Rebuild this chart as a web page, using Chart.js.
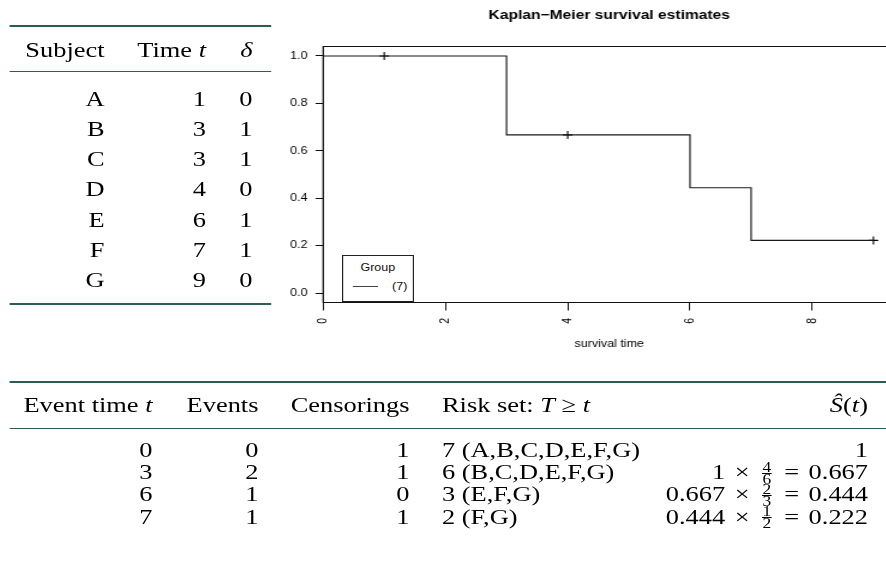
<!DOCTYPE html>
<html lang="en">
<head>
    <meta charset="UTF-8">
    <title>Kaplan-Meier survival estimates</title>
    <script src="https://cdn.jsdelivr.net/npm/chart.js"></script>
    <style>
        html, body {
            margin: 0;
            padding: 0;
            width: 886px;
            height: 572px;
            overflow: hidden;
            background: #fff;
        }

        /* the reference picture is stretched sideways, so lay out narrow and scale */
        #stage {
            position: absolute;
            left: 0;
            top: 0;
            width: 738.33px;
            height: 572px;
            transform: scaleX(1.2);
            transform-origin: 0 0;
        }

        .rule {
            position: absolute;
            background: #2c5b5c;
        }

        .cell {
            position: absolute;
            font-family: 'Liberation Serif', 'Times New Roman', serif;
            font-size: 22px;
            line-height: 22px;
            color: #000;
            white-space: nowrap;
        }

        .op {
            margin: 0 0.36em;
        }

        .frac {
            display: inline-flex;
            flex-direction: column;
            vertical-align: middle;
            font-size: 0.66em;
            line-height: 11px;
            text-align: center;
            margin: -4px 0.2em;
            position: relative;
            top: -1px;
        }

        .frac .den {
            border-top: 1px solid #000;
        }

        #km {
            position: absolute;
            left: 230px;
            top: 0;
        }

        #legend {
            position: absolute;
            left: 284.75px;
            top: 254.7px;
            width: 60.25px;
            height: 47.8px;
            box-sizing: border-box;
            border: 1px solid #222;
            background: #fff;
            font-family: 'Liberation Sans', Arial, sans-serif;
            font-size: 10.4px;
            line-height: 12px;
            color: #111;
        }

        #legend .lg-title {
            position: absolute;
            left: 0;
            right: 0;
            top: 6px;
            text-align: center;
        }

        #legend .lg-line {
            position: absolute;
            left: 8.5px;
            width: 20.5px;
            top: 30.4px;
            border-top: 1.2px solid #444;
        }

        #legend .lg-label {
            position: absolute;
            left: 41px;
            top: 25.4px;
        }
    </style>
</head>
<body>
    <div id="stage">
        <canvas id="km" width="530" height="360"></canvas>
        <div id="legend">
            <div class="lg-title">Group</div>
            <div class="lg-line"></div>
            <div class="lg-label" id="lg-label"></div>
        </div>
    </div>

    <script>
        // ---- data ----
        const xTicks = [0, 2, 4, 6, 8];
        const yTicks = [0, 0.2, 0.4, 0.6, 0.8, 1.0];
        const kmTimes = [0, 3, 6, 7, 9];
        const kmSurv = [1, 0.667, 0.444, 0.222, 0.222];
        const censorTimes = [1, 4, 9];
        const censorSurv = [1, 0.667, 0.222];
        const groupLabels = ['(7)'];

        const subjects = ['A', 'B', 'C', 'D', 'E', 'F', 'G'];
        const subjTimes = [1, 3, 3, 4, 6, 7, 9];
        const subjDelta = [0, 1, 1, 0, 1, 1, 0];

        const eventTimes = [0, 3, 6, 7];
        const eventCounts = [0, 2, 1, 1];
        const censorCounts = [1, 1, 0, 1];
        const riskSets = ['7 (A,B,C,D,E,F,G)', '6 (B,C,D,E,F,G)', '3 (E,F,G)', '2 (F,G)'];
        const survPrev = [null, '1', '0.667', '0.444'];
        const survNum = [null, 4, 2, 1];
        const survDen = [null, 6, 3, 2];
        const survValue = ['1', '0.667', '0.444', '0.222'];

        // ---- tables ----
        const stage = document.getElementById('stage');
        const STAGE_W = 738.33;

        function rule(x, y, w, h) {
            const el = document.createElement('div');
            el.className = 'rule';
            el.style.left = x + 'px';
            el.style.top = y + 'px';
            el.style.width = w + 'px';
            el.style.height = h + 'px';
            stage.appendChild(el);
        }

        function put(html, x, yc, align) {
            const el = document.createElement('div');
            el.className = 'cell';
            el.innerHTML = html;
            el.style.top = (yc - 11.1) + 'px';
            if (align === 'right') el.style.right = (STAGE_W - x) + 'px';
            else el.style.left = x + 'px';
            stage.appendChild(el);
        }

        // left table
        rule(7.5, 25, 218.3, 2.2);
        rule(7.5, 70.9, 218.3, 1.6);
        rule(7.5, 303.2, 218.3, 2.2);
        const leftCols = [87.1, 171.7, 210.4];
        put('Subject', leftCols[0], 50, 'right');
        put('Time <i>t</i>', leftCols[1], 50, 'right');
        put('<i>δ</i>', leftCols[2], 50, 'right');
        subjects.forEach((s, i) => {
            const yc = 99 + 30.17 * i;
            put(s, leftCols[0], yc, 'right');
            put(String(subjTimes[i]), leftCols[1], yc, 'right');
            put(String(subjDelta[i]), leftCols[2], yc, 'right');
        });

        // bottom table
        rule(8.3, 380.6, 740, 2.2);
        rule(8.3, 427.5, 740, 1.6);
        const botCols = [127.1, 215.4, 341.25, 368.3, 723.3];
        put('Event time <i>t</i>', botCols[0], 405, 'right');
        put('Events', botCols[1], 405, 'right');
        put('Censorings', botCols[2], 405, 'right');
        put('Risk set: <i>T</i> ≥ <i>t</i>', botCols[3], 405, 'left');
        put('<i>Ŝ</i>(<i>t</i>)', botCols[4], 405, 'right');
        eventTimes.forEach((t, i) => {
            const yc = 450 + 22.2 * i;
            put(String(t), botCols[0], yc, 'right');
            put(String(eventCounts[i]), botCols[1], yc, 'right');
            put(String(censorCounts[i]), botCols[2], yc, 'right');
            put(riskSets[i], botCols[3], yc, 'left');
            let s = survValue[i];
            if (survPrev[i] !== null) {
                s = survPrev[i] + '<span class="op">×</span><span class="frac"><span class="num">' + survNum[i] +
                    '</span><span class="den">' + survDen[i] + '</span></span><span class="op">=</span>' + survValue[i];
            }
            put(s, botCols[4], yc, 'right');
        });

        document.getElementById('lg-label').textContent = groupLabels[0];

        // ---- chart ----
        const FONT = "'Liberation Sans', Arial, sans-serif";

        // R draws a full box round the plot region
        const boxPlugin = {
            id: 'plotBox',
            afterDraw(chart) {
                const { ctx, chartArea: a } = chart;
                ctx.save();
                ctx.strokeStyle = '#111';
                ctx.lineWidth = 1;
                ctx.strokeRect(a.left, a.top, a.right - a.left, a.bottom - a.top);
                ctx.restore();
            }
        };

        new Chart(document.getElementById('km'), {
            type: 'line',
            data: {
                datasets: [
                    {
                        label: 'KM',
                        data: kmTimes.map((t, i) => ({ x: t, y: kmSurv[i] })),
                        stepped: 'before',
                        borderColor: '#1a1a1a',
                        borderWidth: 1.2,
                        pointRadius: 0,
                        fill: false
                    },
                    {
                        type: 'scatter',
                        label: 'censored',
                        data: censorTimes.map((t, i) => ({ x: t, y: censorSurv[i] })),
                        pointStyle: 'cross',
                        pointRadius: 4,
                        borderColor: '#000',
                        borderWidth: 1.1
                    }
                ]
            },
            options: {
                responsive: false,
                animation: false,
                events: [],
                layout: { padding: { left: 0, right: 13.8, top: 0, bottom: 0 } },
                plugins: {
                    legend: { display: false },
                    tooltip: { enabled: false },
                    title: {
                        display: true,
                        fullSize: false,
                        text: 'Kaplan−Meier survival estimates',
                        color: '#000',
                        font: { family: FONT, size: 13, weight: 'bold' },
                        padding: { top: 7.2, bottom: 23.7 }
                    }
                },
                scales: {
                    x: {
                        type: 'linear',
                        min: 0,
                        max: 9.36,
                        afterBuildTicks: s => { s.ticks = xTicks.map(v => ({ value: v })); },
                        afterFit: s => { s.height = 57.5; },
                        ticks: {
                            autoSkip: false,
                            minRotation: 90,
                            maxRotation: 90,
                            padding: 7.5,
                            color: '#000',
                            font: { family: FONT, size: 10.4 },
                            callback: v => String(v)
                        },
                        grid: { drawOnChartArea: false, drawTicks: true, tickLength: 8, tickColor: '#111', tickWidth: 1 },
                        border: { display: true, color: '#111', width: 1 },
                        title: {
                            display: true,
                            text: 'survival time',
                            color: '#000',
                            font: { family: FONT, size: 10.4 },
                            padding: { top: 0, bottom: 9.75 }
                        }
                    },
                    y: {
                        min: -0.04,
                        max: 1.04,
                        afterBuildTicks: s => { s.ticks = yTicks.map(v => ({ value: v })); },
                        afterFit: s => { s.width = 39.2; },
                        ticks: {
                            autoSkip: false,
                            padding: 6.7,
                            color: '#000',
                            font: { family: FONT, size: 10.4 },
                            callback: v => v.toFixed(1)
                        },
                        grid: { drawOnChartArea: false, drawTicks: true, tickLength: 6.25, tickColor: '#111', tickWidth: 1 },
                        border: { display: true, color: '#111', width: 1 }
                    }
                }
            },
            plugins: [boxPlugin]
        });
    </script>
</body>
</html>
